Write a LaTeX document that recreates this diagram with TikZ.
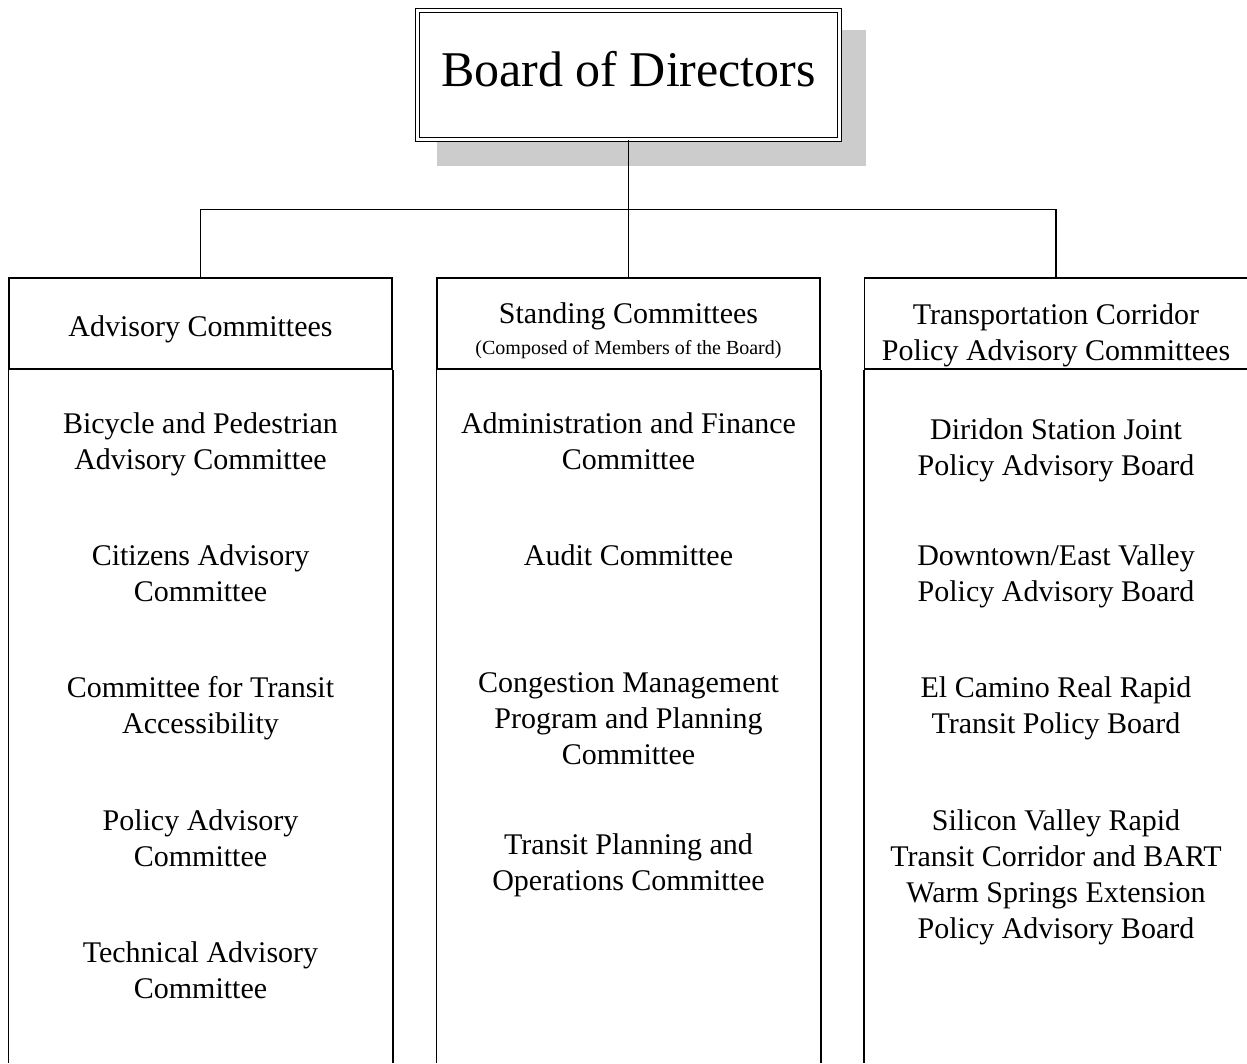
\documentclass[tikz,border=0pt]{standalone}
\usepackage{fontspec}
\setmainfont{Liberation Serif}
\usepackage{tikz}
\usetikzlibrary{positioning}
\tikzstyle{board} = [
    draw,
    double,
    double distance=2.5pt,
    line width=1.1pt,
    fill=white,
    minimum width=422pt,
    minimum height=129pt,
    inner sep=0pt,
    text depth=12pt,
    font=\fontsize{50}{60}\selectfont
]
\tikzstyle{head} = [
    draw,
    line width=1.5pt,
    minimum width=383pt,
    minimum height=91pt,
    inner sep=0pt
]
\tikzstyle{entry} = [
    align=center,
    inner sep=0pt,
    font=\fontsize{30}{36}\selectfont
]
\tikzstyle{link} = [
    line width=1.5pt
]

\begin{document}
\begin{tikzpicture}[x=1pt,y=-1pt]

\useasboundingbox (0,0) rectangle (1247,1063);

\coordinate (floor) at (0,1063);

\fill[black!20] (437,30) rectangle (866,166);

\node[board] (board) at (628.5,75) {Board of Directors};

\node[head] (adv) at (200.5,323.5) {};

\node[head] (std) at (628.5,323.5) {};

\node[head] (tpc) at (1056,323.5) {};

\draw[link] (board.south) -- (std.north);

\draw[link] (adv.north) -- ++(0,-68) -| (tpc.north);

\draw[link] (adv.south west) -- (adv.south west |- floor);

\draw[link] (adv.south east) -- (adv.south east |- floor);

\draw[link] (std.south west) -- (std.south west |- floor);

\draw[link] (std.south east) -- (std.south east |- floor);

\draw[link] (tpc.south west) -- (tpc.south west |- floor);

\draw[link] (tpc.south east) -- (tpc.south east |- floor);

\node[entry] (advt) at (200.5,329) {Advisory Committees};

\node[entry] (stdt) at (628.5,331) {Standing Committees\\[-5pt]
{\fontsize{20}{24}\selectfont (Composed of Members of the Board)}};

\node[entry] (tpct) at (1056,335) {Transportation Corridor\\
Policy Advisory Committees};

\node[entry] (bike) at (200.5,444) {Bicycle and Pedestrian\\Advisory Committee};

\node[entry] (cit) at (200.5,573) {Citizens Advisory\\Committee};

\node[entry] (cta) at (200.5,708) {Committee for Transit\\Accessibility};

\node[entry] (pac) at (200.5,838) {Policy Advisory\\Committee};

\node[entry] (tac) at (200.5,970) {Technical Advisory\\Committee};

\node[entry] (admin) at (628.5,441) {Administration and Finance\\Committee};

\node[entry] (audit) at (628.5,555) {Audit Committee};

\node[entry] (cong) at (628.5,719) {Congestion Management\\Program and Planning\\Committee};

\node[entry] (tpo) at (628.5,865) {Transit Planning and\\Operations Committee};

\node[entry] (dir) at (1056,450) {Diridon Station Joint\\Policy Advisory Board};

\node[entry] (dev) at (1056,576) {Downtown/East Valley\\Policy Advisory Board};

\node[entry] (ecr) at (1056,708) {El Camino Real Rapid\\Transit Policy Board};

\node[entry] (svr) at (1056,877) {Silicon Valley Rapid\\Transit Corridor and BART\\Warm Springs Extension\\Policy Advisory Board};

\end{tikzpicture}
\end{document}
